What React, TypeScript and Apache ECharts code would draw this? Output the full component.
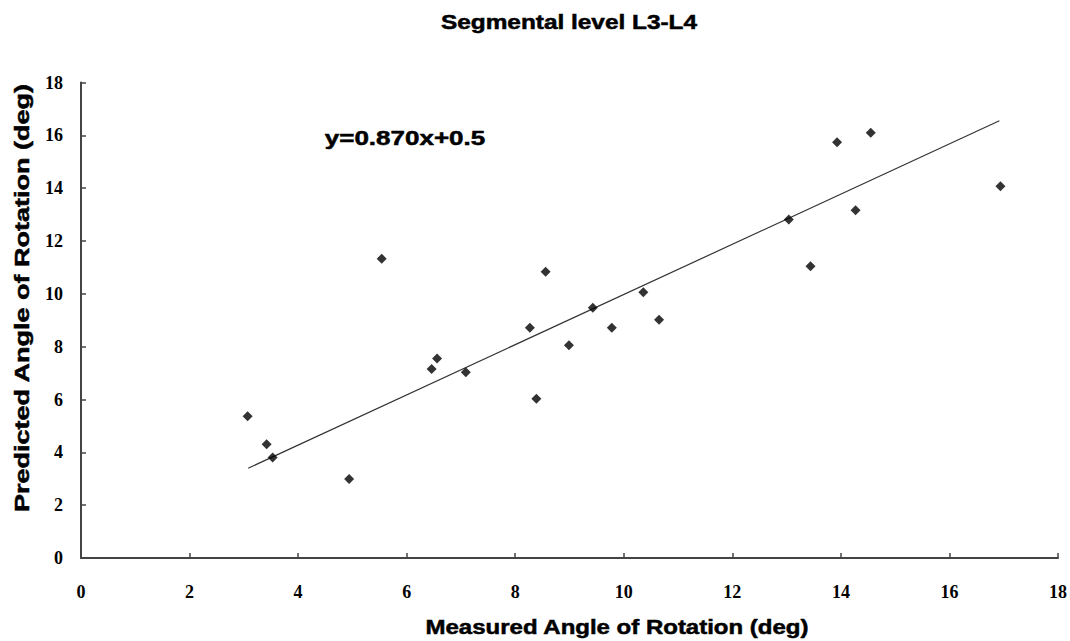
import React, { useEffect, useRef } from "react";
import * as echarts from "echarts";

const measured = [3.07, 3.42, 3.53, 4.94, 5.54, 6.46, 6.56, 7.09, 8.27, 8.39, 8.56, 8.99, 9.43, 9.78, 10.36, 10.65, 13.04, 13.44, 13.93, 14.27, 14.55, 16.94];
const predicted = [5.37, 4.31, 3.8, 2.99, 11.33, 7.15, 7.55, 7.03, 8.72, 6.03, 10.84, 8.05, 9.47, 8.72, 10.06, 9.02, 12.81, 11.04, 15.74, 13.16, 16.1, 14.07];
const trendX = [3.08, 16.92];
const trendY = [3.4, 16.55];

const titleText = "Segmental level L3-L4";
const equationText = "y=0.870x+0.5";
const xAxisName = "Measured Angle of Rotation (deg)";
const yAxisName = "Predicted Angle of Rotation (deg)";

export default function App() {
  const ref = useRef<HTMLDivElement>(null);
  useEffect(() => {
    if (!ref.current) return;
    const chart = echarts.init(ref.current, undefined, { renderer: "svg" });
    const sans = "'Liberation Sans', Arial, sans-serif";
    const serif = "'Liberation Serif', 'Times New Roman', serif";
    const heavy = { stroke: "#000", lineWidth: 0.5 };
    chart.setOption({
      animation: false,
      backgroundColor: "#ffffff",
      grid: { left: 81, right: 12, top: 82.5, bottom: 83 },
      xAxis: {
        type: "value",
        min: 0,
        max: 18,
        interval: 2,
        splitLine: { show: false },
        axisLine: { lineStyle: { color: "#444", width: 2 } },
        axisTick: { inside: true, length: 5, lineStyle: { color: "#444", width: 1.5 } },
        axisLabel: { margin: 25, color: "#000", fontFamily: serif, fontWeight: "bold", fontSize: 18 },
      },
      yAxis: {
        type: "value",
        min: 0,
        max: 18,
        interval: 2,
        splitLine: { show: false },
        axisLine: { show: true, lineStyle: { color: "#444", width: 2 } },
        axisTick: { show: true, inside: true, length: 5, lineStyle: { color: "#444", width: 1.5 } },
        axisLabel: { margin: 18, color: "#000", fontFamily: serif, fontWeight: "bold", fontSize: 18 },
      },
      series: [
        {
          type: "line",
          data: trendX.map((x, i) => [x, trendY[i]]),
          symbol: "none",
          lineStyle: { color: "#333", width: 1.2 },
          silent: true,
          z: 1,
        },
        {
          type: "scatter",
          data: measured.map((x, i) => [x, predicted[i]]),
          symbol: "diamond",
          symbolSize: 10,
          itemStyle: { color: "#000" },
          z: 2,
        },
      ],
      graphic: [
        {
          type: "text",
          x: 569,
          y: 22,
          scaleX: 1.22,
          style: { text: titleText, fill: "#000", font: `bold 20px ${sans}`, align: "center", verticalAlign: "middle", ...heavy },
        },
        {
          type: "text",
          x: 405,
          y: 138,
          scaleX: 1.3,
          style: { text: equationText, fill: "#000", font: `bold 20px ${sans}`, align: "center", verticalAlign: "middle", ...heavy },
        },
        {
          type: "text",
          x: 617,
          y: 627,
          scaleX: 1.2,
          style: { text: xAxisName, fill: "#000", font: `bold 20px ${sans}`, align: "center", verticalAlign: "middle", ...heavy },
        },
        {
          type: "text",
          x: 22,
          y: 298,
          rotation: Math.PI / 2,
          scaleX: 1.35,
          style: { text: yAxisName, fill: "#000", font: `bold 20px ${sans}`, align: "center", verticalAlign: "middle", ...heavy },
        },
      ],
    });
    return () => chart.dispose();
  }, []);
  return <div ref={ref} style={{ position: "fixed", left: 0, top: 0, width: 1070, height: 641 }} />;
}
